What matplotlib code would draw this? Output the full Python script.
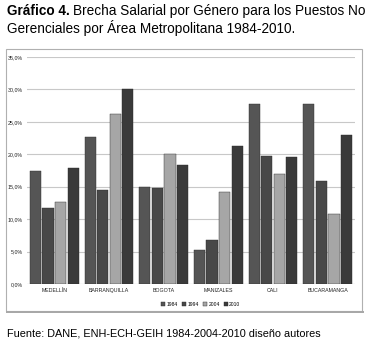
import numpy as np
import matplotlib
matplotlib.use("Agg")
import matplotlib.pyplot as plt
from matplotlib.patches import Rectangle
from matplotlib.ticker import FuncFormatter

plt.rcParams['font.family'] = ['Liberation Sans', 'DejaVu Sans']

cities = ['MEDELLÍN', 'BARRANQUILLA', 'BOGOTA', 'MANIZALES', 'CALI', 'BUCARAMANGA']
years = ['1984', '1994', '2004', '2010']
v1984 = [17.5, 22.6, 15.0, 5.2, 27.8, 27.8]
v1994 = [11.7, 14.5, 14.8, 6.8, 19.8, 15.9]
v2004 = [12.6, 26.2, 20.0, 14.2, 16.9, 10.8]
v2010 = [17.9, 30.0, 18.4, 21.3, 19.6, 23.0]
colors = ['#555555', '#484848', '#a6a6a6', '#3a3a3a']

fig = plt.figure(figsize=(3.75, 3.47), dpi=100)

# outer chart frame
fig.patches.append(Rectangle((6 / 375, 1 - 311 / 347), 356 / 375, 262 / 347,
                             transform=fig.transFigure, fill=False,
                             edgecolor='#b0b0b0', lw=0.8))
fig.patches.append(Rectangle((6 / 375, 1 - 313 / 347), 358 / 375, 2.5 / 347,
                             transform=fig.transFigure, color='#a8a8a8', lw=0))

ax = fig.add_axes([27 / 375, 1 - 284 / 347, 328 / 375, 227 / 347])
x = np.arange(len(cities))
w = 0.205
step = 0.23
for i, (vals, c) in enumerate(zip([v1984, v1994, v2004, v2010], colors)):
    ax.bar(x + (i - 1.5) * step, vals, w, color=c, edgecolor='#2a2a2a',
           lw=0.3, label=years[i], zorder=3)

ax.set_ylim(0, 35)
ax.set_xlim(-0.5, 5.5)
ax.set_yticks(np.arange(0, 36, 5))
ax.yaxis.set_major_formatter(FuncFormatter(lambda v, p: f'{v:.1f}%'.replace('.', ',')))
ax.set_xticks(x)
ax.set_xticklabels(cities)
ax.tick_params(axis='both', labelsize=3.8, length=0, colors='#222222', pad=3)
ax.grid(axis='y', color='#c8c8c8', lw=0.8, zorder=0)
for s in ax.spines.values():
    s.set_visible(False)
ax.axhline(0, color='#c8c8c8', lw=0.8, zorder=1)

ax.legend(loc='upper center', bbox_to_anchor=(0.53, -0.06), ncol=4, frameon=False,
          fontsize=3.6, handlelength=0.8, handleheight=0.8, handletextpad=0.3,
          columnspacing=0.8)

# title with bold prefix
t1 = fig.text(7 / 375, 1 - 11 / 347, 'Gráfico 4.', fontsize=9.8, fontweight='bold',
              va='center', ha='left')
fig.canvas.draw()
bb = t1.get_window_extent(renderer=fig.canvas.get_renderer())
fig.text(bb.x1 / fig.bbox.width + 0.008, 1 - 11 / 347,
         'Brecha Salarial por Género para los Puestos No', fontsize=9.8,
         va='center', ha='left')
fig.text(7 / 375, 1 - 28 / 347, 'Gerenciales por Área Metropolitana 1984-2010.',
         fontsize=9.8, va='center', ha='left')

fig.text(7 / 375, 1 - 333 / 347, 'Fuente: DANE, ENH-ECH-GEIH 1984-2004-2010 diseño autores',
         fontsize=7.8, va='center', ha='left')

fig.savefig('out.png', dpi=100)
